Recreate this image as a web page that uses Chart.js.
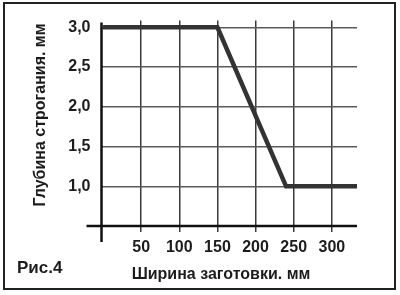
<!DOCTYPE html>
<html>
<head>
<meta charset="utf-8">
<script src="https://cdn.jsdelivr.net/npm/chart.js@4"></script>
<style>
  body { margin: 0; background: #fff; }
  canvas { display: block; }
</style>
</head>
<body>
<canvas id="depthChart" width="400" height="295"></canvas>
<script>
const widths = [0, 150, 240, 333];
const depths = [3.0, 3.0, 1.0, 1.0];
const xTicks = [50, 100, 150, 200, 250, 300];
const yTicks = [1.0, 1.5, 2.0, 2.5, 3.0];

const xTitle = 'Ширина заготовки. мм';
const yTitle = 'Глубина строгания. мм';
const figLabel = 'Рис.4';

const FONT = "'Liberation Sans', Arial, sans-serif";
const INK = '#1c1c1c';

// frame, crossing axes and the free-standing labels
const decorPlugin = {
	id: 'decor',
	beforeDraw(chart) {
		const ctx = chart.ctx;
		ctx.save();
		ctx.fillStyle = '#fff';
		ctx.fillRect(0, 0, chart.width, chart.height);
		ctx.strokeStyle = '#222';
		ctx.lineWidth = 2;
		ctx.strokeRect(4, 3, 391, 286);
		ctx.restore();
	},
	beforeDatasetsDraw(chart) {
		const ctx = chart.ctx;
		const a = chart.chartArea;
		ctx.save();
		ctx.strokeStyle = '#111';
		ctx.lineWidth = 2.5;
		ctx.beginPath();
		ctx.moveTo(a.left - 15, a.bottom);
		ctx.lineTo(a.right, a.bottom);
		ctx.moveTo(a.left, a.top + 2);
		ctx.lineTo(a.left, a.bottom + 16);
		ctx.stroke();
		ctx.restore();
	},
	afterDraw(chart) {
		const ctx = chart.ctx;
		ctx.save();
		ctx.fillStyle = INK;
		ctx.font = 'bold 16px ' + FONT;
		ctx.textAlign = 'center';
		ctx.textBaseline = 'middle';
		ctx.fillText(xTitle, 221, 275);
		ctx.translate(41, 115);
		ctx.rotate(-Math.PI / 2);
		ctx.fillText(yTitle, 0, 0);
		ctx.restore();
		ctx.save();
		ctx.fillStyle = INK;
		ctx.font = 'bold 17px ' + FONT;
		ctx.textAlign = 'left';
		ctx.textBaseline = 'middle';
		ctx.fillText(figLabel, 17, 268);
		ctx.restore();
	}
};

const depthChart = new Chart(document.getElementById('depthChart'), {
	type: 'line',
	data: {
		datasets: [{
			data: widths.map((w, i) => ({ x: w, y: depths[i] })),
			borderColor: '#333',
			borderWidth: 4.5,
			pointRadius: 0,
			tension: 0,
			clip: false,
		}],
	},
	options: {
		responsive: false,
		animation: false,
		devicePixelRatio: 1,
		layout: { padding: { top: 13, right: 43, left: 0, bottom: 0 } },
		plugins: {
			legend: { display: false },
			tooltip: { enabled: false },
		},
		scales: {
			x: {
				type: 'linear',
				min: -2,
				max: 333,
				afterBuildTicks: (s) => { s.ticks = xTicks.map(v => ({ value: v })); },
				afterFit: (s) => { s.height = 69; },
				border: { display: false },
				grid: {
					color: '#3a3a3a',
					lineWidth: 1.5,
					drawTicks: true,
					tickLength: 6,
					tickColor: '#3a3a3a',
				},
				ticks: {
					color: INK,
					padding: 6,
					maxRotation: 0,
					font: { family: FONT, size: 16, weight: 'bold' },
				},
			},
			y: {
				type: 'linear',
				min: 0.5,
				max: 3.085,
				afterBuildTicks: (s) => { s.ticks = yTicks.map(v => ({ value: v })); },
				afterFit: (s) => { s.width = 101.5; },
				border: { display: false },
				grid: {
					color: '#5a5a5a',
					lineWidth: 1.5,
					drawTicks: false,
				},
				ticks: {
					color: INK,
					padding: 11,
					font: { family: FONT, size: 16, weight: 'bold' },
					callback: (v) => v.toFixed(1).replace('.', ','),
				},
			},
		},
	},
	plugins: [decorPlugin],
});
</script>
</body>
</html>
